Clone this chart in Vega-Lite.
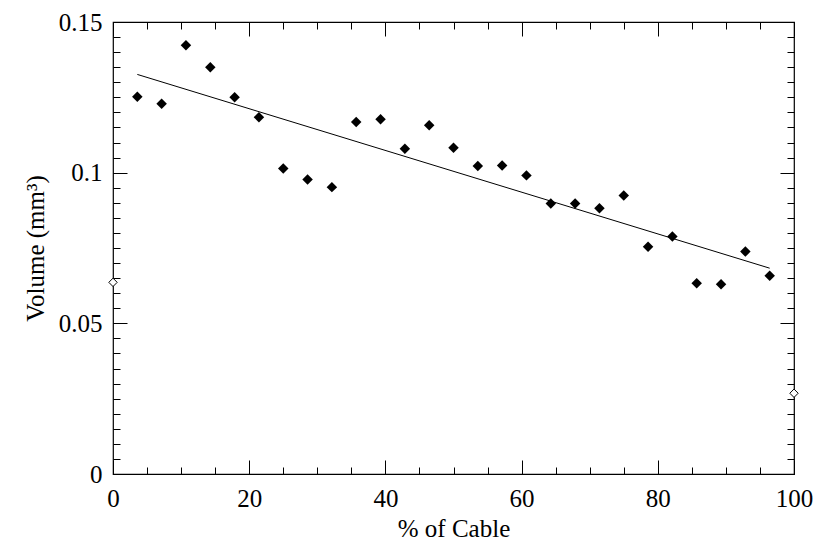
{
  "$schema": "https://vega.github.io/schema/vega-lite/v6.json",
  "width": 681,
  "height": 452,
  "autosize": {"type": "none"},
  "padding": {"left": 113, "top": 22, "right": 37, "bottom": 68},
  "background": "white",
  "config": {
    "view": {"stroke": "black", "strokeWidth": 1.2},
    "axis": {
      "grid": false,
      "labelFont": "Liberation Serif",
      "titleFont": "Liberation Serif",
      "labelFontSize": 25,
      "titleFontSize": 25,
      "titleFontWeight": "normal",
      "labelColor": "black",
      "titleColor": "black",
      "tickColor": "black",
      "domain": false,
      "labelFlush": false,
      "labelOverlap": false
    }
  },
  "datasets": {
    "filled": [
      {"x": 3.571, "v": 0.1252}, {"x": 7.143, "v": 0.1229}, {"x": 10.714, "v": 0.1423},
      {"x": 14.286, "v": 0.1350}, {"x": 17.857, "v": 0.1250}, {"x": 21.429, "v": 0.1184},
      {"x": 25.0, "v": 0.1014}, {"x": 28.571, "v": 0.0977}, {"x": 32.143, "v": 0.0952},
      {"x": 35.714, "v": 0.1168}, {"x": 39.286, "v": 0.1177}, {"x": 42.857, "v": 0.1079},
      {"x": 46.429, "v": 0.1157}, {"x": 50.0, "v": 0.1083}, {"x": 53.571, "v": 0.1022},
      {"x": 57.143, "v": 0.1024}, {"x": 60.714, "v": 0.0991}, {"x": 64.286, "v": 0.0898},
      {"x": 67.857, "v": 0.0898}, {"x": 71.429, "v": 0.0882}, {"x": 75.0, "v": 0.0924},
      {"x": 78.571, "v": 0.0754}, {"x": 82.143, "v": 0.0788}, {"x": 85.714, "v": 0.0633},
      {"x": 89.286, "v": 0.0630}, {"x": 92.857, "v": 0.0738}, {"x": 96.429, "v": 0.0658}
    ],
    "open": [
      {"x": 0, "v": 0.0636},
      {"x": 100, "v": 0.0268}
    ],
    "fit": [
      {"x": 3.571, "v": 0.1326},
      {"x": 96.429, "v": 0.0683}
    ]
  },
  "resolve": {"axis": {"x": "independent", "y": "independent"}},
  "layer": [
    {
      "data": {"name": "fit"},
      "mark": {"type": "line", "color": "black", "strokeWidth": 1},
      "encoding": {
        "x": {"field": "x", "type": "quantitative",
              "scale": {"domain": [0, 100], "nice": false, "zero": false},
              "axis": {"orient": "bottom", "values": [0, 20, 40, 60, 80, 100], "tickSize": -14, "labelPadding": 26, "title": "% of Cable", "titlePadding": 5}},
        "y": {"field": "v", "type": "quantitative",
              "scale": {"domain": [0, 0.15], "nice": false, "zero": false},
              "axis": {"orient": "left", "values": [0, 0.05, 0.1, 0.15], "tickSize": -14, "labelPadding": 25, "labelExpr": "'' + datum.value", "title": "Volume (mm³)", "titlePadding": 10}}
      }
    },
    {
      "data": {"name": "open"},
      "mark": {"type": "point", "shape": "diamond", "filled": true, "fill": "white", "stroke": "black", "strokeWidth": 1, "size": 70, "opacity": 1, "clip": false},
      "encoding": {
        "x": {"field": "x", "type": "quantitative",
              "axis": {"orient": "bottom", "values": [0,5,10,15,20,25,30,35,40,45,50,55,60,65,70,75,80,85,90,95,100], "tickSize": -7, "labels": false, "title": null}},
        "y": {"field": "v", "type": "quantitative",
              "axis": {"orient": "left", "values": [0,0.005,0.01,0.015,0.02,0.025,0.03,0.035,0.04,0.045,0.05,0.055,0.06,0.065,0.07,0.075,0.08,0.085,0.09,0.095,0.1,0.105,0.11,0.115,0.12,0.125,0.13,0.135,0.14,0.145,0.15], "tickSize": -7, "labels": false, "title": null}}
      }
    },
    {
      "data": {"name": "filled"},
      "mark": {"type": "point", "shape": "diamond", "filled": true, "fill": "black", "size": 110, "opacity": 1},
      "encoding": {
        "x": {"field": "x", "type": "quantitative",
              "axis": {"orient": "top", "values": [0, 20, 40, 60, 80, 100], "tickSize": -14, "labels": false, "title": null}},
        "y": {"field": "v", "type": "quantitative",
              "axis": {"orient": "right", "values": [0, 0.05, 0.1, 0.15], "tickSize": -14, "labels": false, "title": null}}
      }
    },
    {
      "data": {"name": "filled"},
      "mark": {"type": "point", "shape": "diamond", "filled": true, "size": 10, "opacity": 0},
      "encoding": {
        "x": {"field": "x", "type": "quantitative",
              "axis": {"orient": "top", "values": [0,5,10,15,20,25,30,35,40,45,50,55,60,65,70,75,80,85,90,95,100], "tickSize": -7, "labels": false, "title": null}},
        "y": {"field": "v", "type": "quantitative",
              "axis": {"orient": "right", "values": [0,0.005,0.01,0.015,0.02,0.025,0.03,0.035,0.04,0.045,0.05,0.055,0.06,0.065,0.07,0.075,0.08,0.085,0.09,0.095,0.1,0.105,0.11,0.115,0.12,0.125,0.13,0.135,0.14,0.145,0.15], "tickSize": -7, "labels": false, "title": null}}
      }
    }
  ]
}
